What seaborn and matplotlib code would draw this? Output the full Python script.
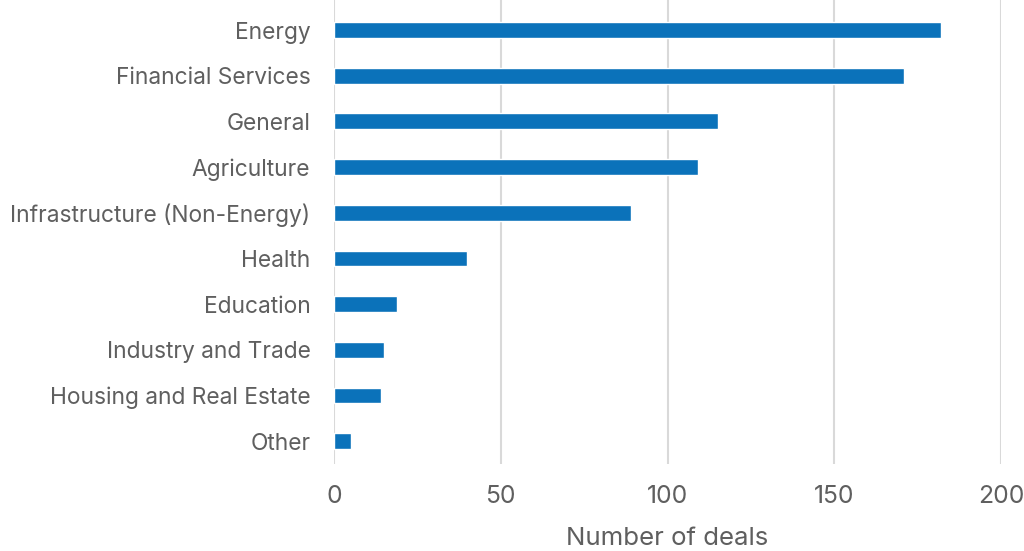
import matplotlib
matplotlib.use("Agg")
import matplotlib.pyplot as plt
import seaborn as sns
import pandas as pd

categories = ["Energy", "Financial Services", "General", "Agriculture",
              "Infrastructure (Non-Energy)", "Health", "Education",
              "Industry and Trade", "Housing and Real Estate", "Other"]
deals = [182, 171, 115, 109, 89, 40, 19, 15, 14, 5]
x_ticks = [0, 50, 100, 150, 200]
x_label = "Number of deals"

sns.set_theme(style="white")
plt.rcParams['font.family'] = ['Inter', 'DejaVu Sans']

df = pd.DataFrame({"category": categories, "deals": deals})

fig = plt.figure(figsize=(10.24, 5.51), dpi=100)
ax = fig.add_axes([334/1024, 1 - 464/551, (1001-334)/1024, 464/551])

sns.barplot(data=df, y="category", x="deals", order=categories,
            color="#0B72BA", saturation=1, width=0.345, ax=ax, zorder=3)

ax.set_xlim(0, 200)
ax.set_ylim(9.5, -0.657)
ax.set_xticks(x_ticks)
ax.grid(axis="x", color="#d9d9d9", linewidth=1.5, zorder=0)
ax.set_axisbelow(True)
for s in ax.spines.values():
    s.set_visible(False)
ax.tick_params(axis="y", length=0, pad=17, labelsize=16.4, labelcolor="#5f5f5f")
ax.tick_params(axis="x", length=0, pad=15, labelsize=17.8, labelcolor="#5f5f5f")
ax.set_ylabel("")
ax.set_xlabel(x_label, fontsize=18.6, color="#5f5f5f", labelpad=14)

fig.savefig("out.png", dpi=100)
